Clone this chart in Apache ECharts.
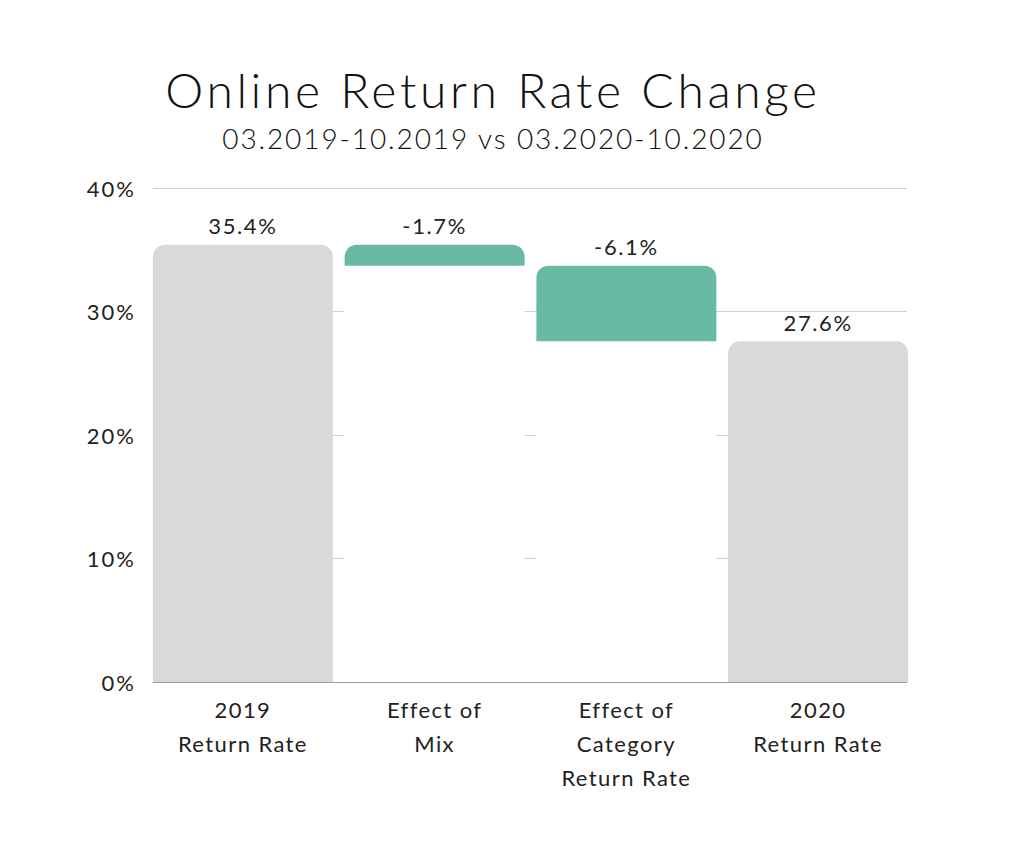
<!DOCTYPE html>
<html>
<head>
<meta charset="utf-8">
<script src="https://cdn.jsdelivr.net/npm/echarts@6/dist/echarts.min.js"></script>
<style>
html,body{margin:0;padding:0;background:#fff}
#c{width:1017px;height:863px}
#c text[style*="ttl"]{letter-spacing:3.6px}
#c text[style*="sub"]{letter-spacing:1.9px}
#c text[style*="ylab"]{letter-spacing:2px}
#c text[style*="xlab"]{letter-spacing:1.4px}
#c text[style*="vlab"]{letter-spacing:1.6px}
</style>
</head>
<body>
<div id="c"></div>
<script>
const categories = ['2019\nReturn Rate', 'Effect of\nMix', 'Effect of\nCategory\nReturn Rate', '2020\nReturn Rate'];
const startValue = 35.4;
const changes = [-1.7, -6.1];
const endValue = 27.6;
const valueLabels = ['35.4%', '-1.7%', '-6.1%', '27.6%'];
const yTicks = [0, 10, 20, 30, 40];

const GRAY = '#D9D9D9', GREEN = '#68BAA5';

// waterfall: white base (hides grid lines) + visible segment
const baseData = [0];
const segData = [startValue];
let running = startValue;
changes.forEach(c => {
  const next = running + c;
  baseData.push(Math.min(running, next));
  segData.push(Math.abs(c));
  running = next;
});
baseData.push(0);
segData.push(endValue);
const segColors = [GRAY, GREEN, GREEN, GRAY];

const chart = echarts.init(document.getElementById('c'), null, { renderer: 'svg' });
chart.setOption({
  backgroundColor: '#fff',
  animation: false,
  title: {
    text: 'Online Return Rate Change',
    subtext: '03.2019-10.2019 vs 03.2020-10.2020',
    left: 488, textAlign: 'center', top: 60,
    itemGap: 11,
    textStyle: { fontFamily: 'Lato, ttl', fontSize: 48, fontWeight: 300, color: '#111' },
    subtextStyle: { fontFamily: 'Lato, sub', fontSize: 28, fontWeight: 300, color: '#111' }
  },
  grid: [
    { left: 153, right: 110, top: 188, bottom: 181 },
    { left: 147, right: 103, top: 188, bottom: 181 }
  ],
  xAxis: [
    { type: 'category', gridIndex: 0, data: categories,
      axisLine: { show: true, lineStyle: { color: '#8fa39e', width: 1 } },
      axisTick: { show: false }, axisLabel: { show: false }, z: 5 },
    {
      type: 'category', gridIndex: 1, data: categories,
      axisLine: { show: false },
      axisTick: { show: false },
      axisLabel: { margin: 10, fontFamily: 'Lato, xlab', fontSize: 22, color: '#222', lineHeight: 34, interval: 0 }
    }
  ],
  yAxis: [
    {
      type: 'value', gridIndex: 0, min: 0, max: 40, interval: 10,
      axisLine: { show: false }, axisTick: { show: false },
      splitLine: { lineStyle: { color: '#d0d0d0', width: 1 } },
      axisLabel: { margin: 17, fontFamily: 'Lato, ylab', fontSize: 22, color: '#222',
        formatter: v => yTicks.includes(v) ? v + '%' : '' }
    },
    {
      type: 'value', gridIndex: 1, min: 0, max: 40, interval: 10, show: false,
      splitLine: { show: false }
    }
  ],
  series: [
    {
      name: 'base', type: 'bar', stack: 'w', xAxisIndex: 1, yAxisIndex: 1,
      barWidth: 180, data: baseData,
      itemStyle: { color: '#fff' }, silent: true
    },
    {
      name: 'value', type: 'bar', stack: 'w', xAxisIndex: 1, yAxisIndex: 1,
      barWidth: 180,
      data: segData.map((v, i) => ({ value: v, itemStyle: { color: segColors[i] } })),
      itemStyle: { borderRadius: [12, 12, 0, 0] },
      label: {
        show: true, position: 'top', distance: 8,
        fontFamily: 'Lato, vlab', fontSize: 22, color: '#222',
        formatter: p => valueLabels[p.dataIndex]
      }
    }
  ]
});
</script>
</body>
</html>
